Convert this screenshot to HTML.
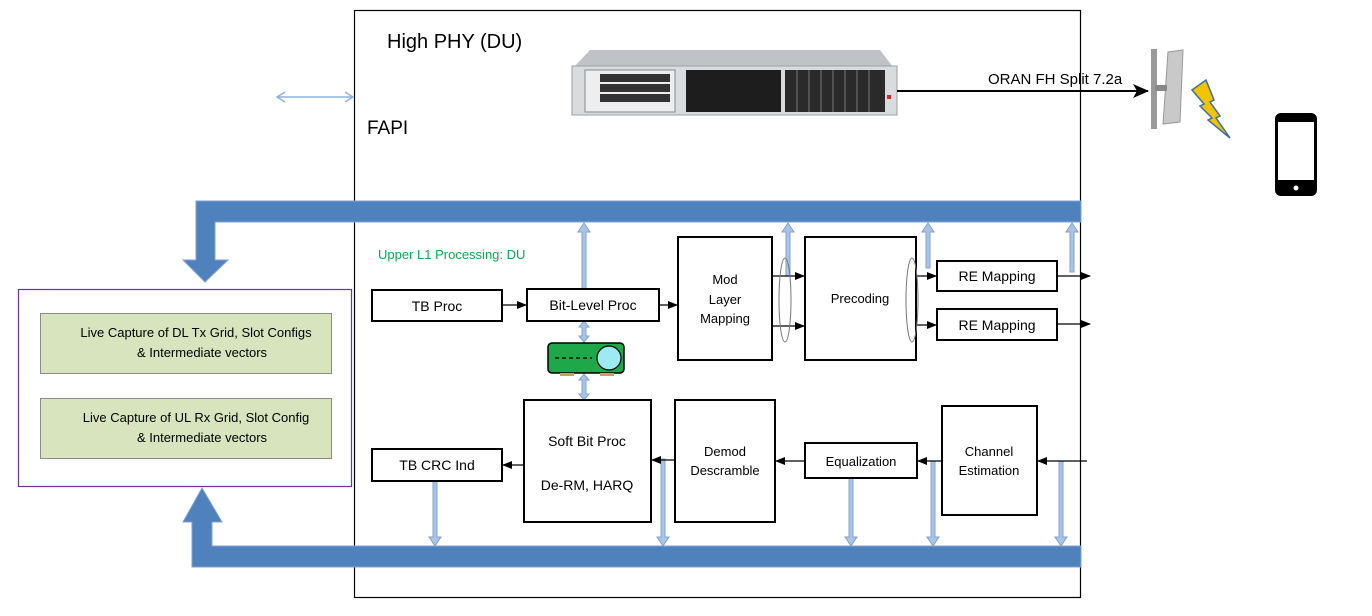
<!DOCTYPE html>
<html><head><meta charset="utf-8"><style>
html,body{margin:0;padding:0;background:#fff;}
svg{display:block;font-family:"Liberation Sans","DejaVu Sans",sans-serif;}
</style></head><body>
<svg width="1372" height="616" viewBox="0 0 1372 616" xmlns="http://www.w3.org/2000/svg">
<defs>
<marker id="ah" markerWidth="10" markerHeight="10" refX="9" refY="5" orient="auto" markerUnits="userSpaceOnUse"><path d="M0,1 L10,5 L0,9 Z" fill="#000"/></marker>
<marker id="ahb" markerWidth="16" markerHeight="16" refX="15" refY="8" orient="auto" markerUnits="userSpaceOnUse"><path d="M0,1 L16,8 L0,15 L4,8 Z" fill="#000"/></marker>
</defs>

<!-- main frame -->
<rect x="354.5" y="10.5" width="726" height="587" fill="#fff" stroke="#000" stroke-width="1.2"/>
<text x="387" y="48" font-size="20">High PHY (DU)</text>
<text x="367" y="134" font-size="19">FAPI</text>

<!-- FAPI double arrow -->
<g stroke="#8fb2de" stroke-width="1.5" fill="none">
<line x1="278" y1="97" x2="352" y2="97"/>
<polyline points="285,92 277,97 285,102"/>
<polyline points="345,92 353,97 345,102"/>
</g>

<!-- server -->
<g>
<polygon points="590,50 880,50 893,67 574,67" fill="#bfc3c7"/>
<rect x="572" y="66" width="325" height="49" fill="#d9dcdf" stroke="#9aa0a6"/>
<rect x="585" y="70" width="90" height="42" fill="#eceeef" stroke="#888"/>
<rect x="600" y="74" width="70" height="8" fill="#333"/><rect x="600" y="84" width="70" height="8" fill="#333"/><rect x="600" y="94" width="70" height="8" fill="#333"/>
<rect x="686" y="70" width="95" height="42" fill="#1d1d1d"/>
<rect x="785" y="70" width="100" height="42" fill="#2a2a2a"/>
<g stroke="#777" stroke-width="1"><line x1="797" y1="70" x2="797" y2="112"/><line x1="809" y1="70" x2="809" y2="112"/><line x1="821" y1="70" x2="821" y2="112"/><line x1="833" y1="70" x2="833" y2="112"/><line x1="845" y1="70" x2="845" y2="112"/><line x1="857" y1="70" x2="857" y2="112"/><line x1="869" y1="70" x2="869" y2="112"/></g>
<rect x="887" y="95" width="4" height="4" fill="#d22"/>
</g>

<!-- ORAN arrow -->
<line x1="897" y1="91" x2="1148" y2="91" stroke="#000" stroke-width="2" marker-end="url(#ahb)"/>
<text x="988" y="84" font-size="15">ORAN FH Split 7.2a</text>

<!-- antenna -->
<rect x="1151" y="49" width="6" height="80" fill="#9a9a9a"/>
<polygon points="1168,52 1183,50 1180,122 1163,124" fill="#c9c9c9" stroke="#999"/>
<rect x="1155" y="85" width="12" height="6" fill="#888"/>
<!-- lightning -->
<polygon points="1192,90 1206,80 1214,100 1210,102 1220,116 1216,118 1230,138 1208,120 1212,118 1200,106 1204,104" fill="#f2c300" stroke="#3d6ea8" stroke-width="1.5"/>
<!-- phone -->
<rect x="1275" y="113" width="42" height="83" rx="6" fill="#000"/>
<rect x="1278" y="122" width="36" height="58" fill="#fff"/>
<circle cx="1296" cy="188" r="2.5" fill="#fff"/>

<!-- top bus -->
<path d="M1081,201 L196,201 L196,260 L183,260 L205,282 L228,260 L215,260 L215,222 L1081,222 Z" fill="#4f81bd" stroke="#7fa3d1" stroke-width="1"/>
<!-- bottom bus -->
<path d="M1081,546 L212,546 L212,522 L222,522 L202,488 L183,522 L192,522 L192,567 L1081,567 Z" fill="#4f81bd" stroke="#7fa3d1" stroke-width="1"/>

<!-- left panel -->
<rect x="18.5" y="289.5" width="333" height="197" fill="#fff" stroke="#7030a0" stroke-width="1.2"/>
<rect x="40.5" y="313.5" width="291" height="60" fill="#d7e4bd" stroke="#8a8a8a"/>
<text x="196" y="337" font-size="13" text-anchor="middle">Live Capture of DL Tx Grid, Slot Configs</text>
<text x="202" y="357" font-size="13" text-anchor="middle">&amp; Intermediate vectors</text>
<rect x="40.5" y="398.5" width="291" height="60" fill="#d7e4bd" stroke="#8a8a8a"/>
<text x="196" y="422" font-size="13" text-anchor="middle">Live Capture of UL Rx Grid, Slot Config</text>
<text x="202" y="442" font-size="13" text-anchor="middle">&amp; Intermediate vectors</text>

<text x="378" y="259" font-size="13" fill="#00b050">Upper L1 Processing: DU</text>

<!-- thin blue arrows (up to top bus) -->
<g fill="#a9c4e4" stroke="#7fa3d1" stroke-width="1">
<path d="M582,289 L582,232 L578,232 L584,223 L590,232 L586,232 L586,289 Z"/>
<path d="M786,276 L786,232 L782,232 L788,223 L794,232 L790,232 L790,276 Z"/>
<path d="M926,268 L926,232 L922,232 L928,223 L934,232 L930,232 L930,268 Z"/>
<path d="M1070,272 L1070,232 L1066,232 L1072,223 L1078,232 L1074,232 L1074,272 Z"/>
<!-- down to bottom bus -->
<path d="M433,481 L433,537 L429,537 L435,546 L441,537 L437,537 L437,481 Z"/>
<path d="M661,459 L661,537 L657,537 L663,546 L669,537 L665,537 L665,459 Z"/>
<path d="M849,478 L849,537 L845,537 L851,546 L857,537 L853,537 L853,478 Z"/>
<path d="M931,461 L931,537 L927,537 L933,546 L939,537 L935,537 L935,461 Z"/>
<path d="M1059,461 L1059,537 L1055,537 L1061,546 L1067,537 L1063,537 L1063,461 Z"/>
<!-- GPU double arrows -->
<path d="M582,327 L582,336 L579,336 L584,342 L589,336 L586,336 L586,327 L589,327 L584,321 L579,327 Z"/>
<path d="M582,380 L582,394 L579,394 L584,400 L589,394 L586,394 L586,380 L589,380 L584,374 L579,380 Z"/>
</g>

<!-- GPU -->
<g>
<rect x="548" y="343" width="76" height="30" rx="4" fill="#1fa84a" stroke="#000" stroke-width="1.5"/>
<circle cx="609" cy="358" r="12" fill="#9eeaf3" stroke="#000" stroke-width="1.2"/>
<line x1="555" y1="358" x2="592" y2="358" stroke="#000" stroke-width="1.2" stroke-dasharray="4,3"/>
<rect x="560" y="373" width="14" height="3" fill="#c8a060"/><rect x="600" y="373" width="14" height="3" fill="#c8a060"/>
</g>

<!-- blocks -->
<g fill="#fff" stroke="#000" stroke-width="2">
<rect x="372" y="290" width="130" height="31"/>
<rect x="527" y="289" width="132" height="32"/>
<rect x="678" y="237" width="94" height="123"/>
<rect x="805" y="237" width="111" height="123"/>
<rect x="937" y="261" width="120" height="30"/>
<rect x="937" y="309" width="120" height="31"/>
<rect x="524" y="400" width="127" height="122"/>
<rect x="675" y="400" width="100" height="122"/>
<rect x="805" y="443" width="112" height="35"/>
<rect x="942" y="406" width="95" height="109"/>
<rect x="372" y="449" width="130" height="32"/>
</g>
<g font-size="14" text-anchor="middle">
<text x="437" y="311">TB Proc</text>
<text x="593" y="310">Bit-Level Proc</text>
<text x="725" y="284" font-size="13">Mod</text>
<text x="725" y="304" font-size="13">Layer</text>
<text x="725" y="323" font-size="13">Mapping</text>
<text x="860" y="303" font-size="13">Precoding</text>
<text x="997" y="281">RE Mapping</text>
<text x="997" y="330">RE Mapping</text>
<text x="587" y="446">Soft Bit Proc</text>
<text x="587" y="490">De-RM, HARQ</text>
<text x="725" y="456" font-size="13">Demod</text>
<text x="725" y="475" font-size="13">Descramble</text>
<text x="861" y="466" font-size="13">Equalization</text>
<text x="989" y="456" font-size="13">Channel</text>
<text x="989" y="475" font-size="13">Estimation</text>
<text x="437" y="470">TB CRC Ind</text>
</g>

<!-- black arrows -->
<g stroke="#000" stroke-width="1.3" marker-end="url(#ah)">
<line x1="502" y1="305" x2="526" y2="305"/>
<line x1="659" y1="305" x2="677" y2="305"/>
<line x1="772" y1="276" x2="804" y2="276"/>
<line x1="772" y1="326" x2="804" y2="326"/>
<line x1="916" y1="276" x2="936" y2="276"/>
<line x1="916" y1="325" x2="936" y2="325"/>
<line x1="1057" y1="276" x2="1090" y2="276"/>
<line x1="1057" y1="324" x2="1090" y2="324"/>
<line x1="1087" y1="461" x2="1038" y2="461"/>
<line x1="942" y1="461" x2="918" y2="461"/>
<line x1="805" y1="461" x2="776" y2="461"/>
<line x1="675" y1="460" x2="652" y2="460"/>
<line x1="524" y1="465" x2="503" y2="465"/>
</g>
<!-- ellipses -->
<ellipse cx="785" cy="300" rx="6" ry="42" fill="none" stroke="#777" stroke-width="1"/>
<ellipse cx="912" cy="300" rx="6" ry="42" fill="none" stroke="#777" stroke-width="1"/>
</svg>
</body></html>
